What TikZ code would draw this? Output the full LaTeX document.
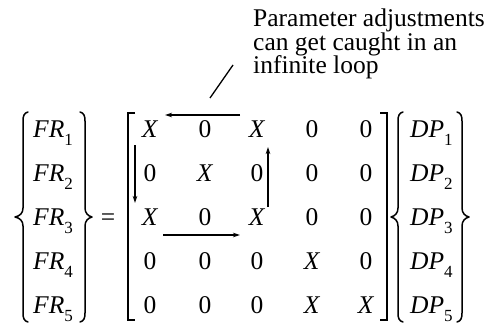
\documentclass[tikz,border=0pt]{standalone}
\usepackage{fontspec}
\setmainfont{Liberation Serif}
\usetikzlibrary{arrows.meta}
\newcommand\sbs[1]{\raisebox{-8pt}{\fontsize{17}{17}\selectfont #1}}
\newcommand\itX{\textit{X}}
\begin{document}
\begin{tikzpicture}[x=1pt,y=-1pt,
  txt/.style={inner sep=0pt,font=\fontsize{25.5}{23}\selectfont},
  cell/.style={txt,anchor=base},
  vec/.style={txt,anchor=base west},
  delim/.style={line width=1.5pt,line cap=round,line join=round},
  brk/.style={line width=1.8pt},
  loopar/.style={line width=1.1pt,-{Stealth[length=7pt,width=4.5pt]}},
  ]
\useasboundingbox (0,0) rectangle (487,332);
% annotation
\node[vec] (t1) at (253,27) {Parameter adjustments};
\node[vec] (t2) at (253,50) {can get caught in an};
\node[vec] (t3) at (253,73) {infinite loop};
\coordinate (sl1) at (210,98);
\coordinate (sl2) at (233,65);
\draw[line width=1.3pt] (sl1) -- (sl2);
% FR vector
\foreach \r in {1,...,5}{
  \node[vec] (fr\r) at (33,{137+44*(\r-1)}) {\textit{FR}\sbs{\r}};
  \node[vec] (dp\r) at (410,{137+44*(\r-1)}) {\textit{DP}\sbs{\r}};
}
% braces
\draw[delim] (28,112) .. controls (24,113) and (23,116) .. (23,121) -- (23,208)
  .. controls (23,213) and (20,216) .. (15,217) .. controls (20,218) and (23,221) .. (23,226)
  -- (23,313) .. controls (23,318) and (24,321) .. (28,322);
\draw[delim] (80,112) .. controls (84,113) and (85,116) .. (85,121) -- (85,208)
  .. controls (85,213) and (88,216) .. (92,217) .. controls (88,218) and (85,221) .. (85,226)
  -- (85,313) .. controls (85,318) and (84,321) .. (80,322);
\draw[delim] (403,112) .. controls (399,113) and (398,116) .. (398,121) -- (398,208)
  .. controls (398,213) and (395,216) .. (391,217) .. controls (395,218) and (398,221) .. (398,226)
  -- (398,313) .. controls (398,318) and (399,321) .. (403,322);
\draw[delim] (457,112) .. controls (461,113) and (462,116) .. (462,121) -- (462,208)
  .. controls (462,213) and (465,216) .. (469,217) .. controls (465,218) and (462,221) .. (462,226)
  -- (462,313) .. controls (462,318) and (461,321) .. (457,322);
% equals
\node[txt] (eq) at (108,220) {=};
% brackets
\draw[brk] (135,113) -- (128,113) -- (128,320) -- (135,320);
\draw[brk] (380,113) -- (387,113) -- (387,320) -- (380,320);
% matrix entries
\foreach [count=\r] \row in {{\itX,0,\itX,0,0},{0,\itX,0,0,0},{\itX,0,\itX,0,0},{0,0,0,\itX,0},{0,0,0,\itX,\itX}}{
  \foreach [count=\c] \e in \row {
    \pgfmathsetmacro\xx{{150,205,257,312,366}[\c-1]}
    \node[cell] (m\r\c) at (\xx,{137+44*(\r-1)}) {\e};
  }
}
% loop arrows
\coordinate (p1) at (240,115);
\coordinate (p2) at (165,115);
\coordinate (p3) at (135,145);
\coordinate (p4) at (135,203);
\coordinate (p5) at (163,235);
\coordinate (p6) at (240,235);
\coordinate (p7) at (268,207);
\coordinate (p8) at (268,147);
\draw[loopar] (p1) -- (p2);
\draw[loopar] (p3) -- (p4);
\draw[loopar] (p5) -- (p6);
\draw[loopar] (p7) -- (p8);
\end{tikzpicture}
\end{document}
